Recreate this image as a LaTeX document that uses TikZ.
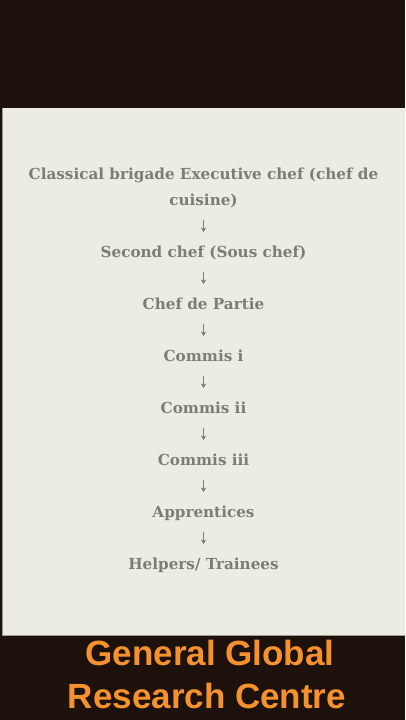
\documentclass[tikz,border=0pt]{standalone}
\usepackage{fontspec}
\setmainfont{DejaVu Serif}
\newfontfamily\brandfont{Liberation Sans}
\usetikzlibrary{arrows.meta}
\definecolor{bgdark}{HTML}{1C110B}
\definecolor{panel}{HTML}{ECECE3}
\definecolor{panelline}{HTML}{9A9A92}
\definecolor{ranktext}{HTML}{7D7D76}
\definecolor{brand}{HTML}{F5922E}
\tikzset{
  rank/.style={text=ranktext,anchor=base,inner sep=0pt,align=center},
  flow/.style={ranktext,line width=1.7pt,-{Stealth[length=4.5pt,width=5.5pt]}},
  brandline/.style={text=brand,anchor=base,inner sep=0pt,font=\brandfont\bfseries\fontsize{35}{43}\selectfont}
}
\begin{document}
\begin{tikzpicture}[x=1pt,y=-1pt,font=\bfseries\fontsize{15.2}{26}\selectfont]
\fill[bgdark] (0,0) rectangle (405,720);
\fill[panel] (2,108) rectangle (405,635);
\draw[panelline,line width=0.8pt] (2,108) -- (2,635) -- (405,635);
\useasboundingbox (0,0) rectangle (405,720);
% ranks of the brigade
\node[rank] (r0) at (203.5,205) {Classical brigade Executive chef (chef de\\cuisine)};
\foreach \n/\t in {1/Second chef (Sous chef),2/Chef de Partie,3/Commis i,4/Commis ii,
    5/Commis iii,6/Apprentices,7/{Helpers/ Trainees}}{
  \node[rank] (r\n) at (203.5,{205+52*\n}) {\t};
}
\foreach \a [evaluate=\a as \b using int(\a+1)] in {0,...,6}{
  \draw[flow,shorten <=15pt,shorten >=25pt] (r\a.base) -- (r\b.base);
}
% channel name
\node[brandline] (g1) at (210,665) {General Global};
\node[brandline] (g2) at (207,708) {Research Centre};
\end{tikzpicture}
\end{document}
